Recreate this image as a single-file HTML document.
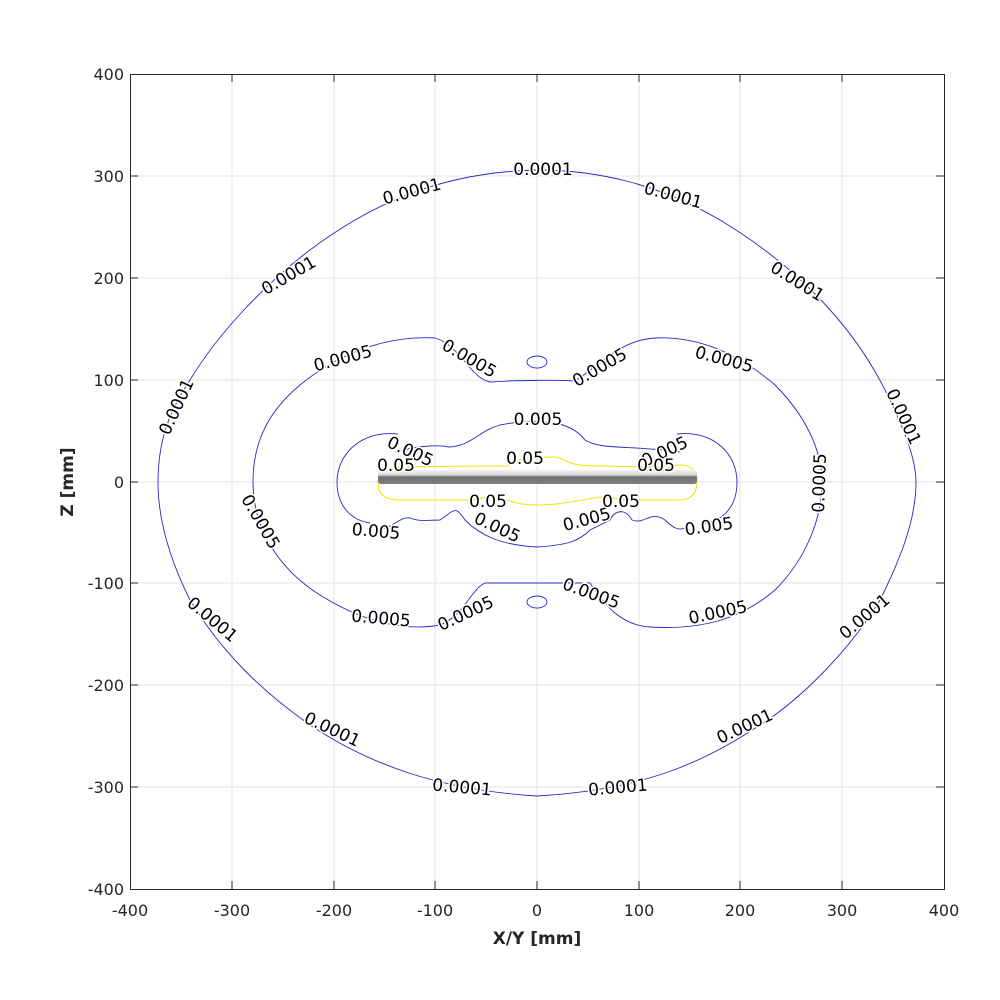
<!DOCTYPE html>
<html><head><style>body{margin:0;background:#fff}svg{display:block}</style></head><body>
<svg width="1000" height="1000" xmlns="http://www.w3.org/2000/svg" font-family="DejaVu Sans, Liberation Sans, sans-serif">
<defs><linearGradient id="g" x1="0" y1="0" x2="0" y2="1"><stop offset="0" stop-color="#f4f4f4"/><stop offset="0.35" stop-color="#d8d8d8"/><stop offset="0.5" stop-color="#707070"/><stop offset="1" stop-color="#808080"/></linearGradient></defs>
<rect width="1000" height="1000" fill="#fff"/>
<g stroke="#e3e3e3" stroke-width="1">
<line x1="232" y1="74" x2="232" y2="889"/><line x1="334" y1="74" x2="334" y2="889"/><line x1="435" y1="74" x2="435" y2="889"/><line x1="537" y1="74" x2="537" y2="889"/><line x1="639" y1="74" x2="639" y2="889"/><line x1="740" y1="74" x2="740" y2="889"/><line x1="842" y1="74" x2="842" y2="889"/>
<line x1="130" y1="176" x2="944" y2="176"/><line x1="130" y1="278" x2="944" y2="278"/><line x1="130" y1="380" x2="944" y2="380"/><line x1="130" y1="482" x2="944" y2="482"/><line x1="130" y1="583" x2="944" y2="583"/><line x1="130" y1="685" x2="944" y2="685"/><line x1="130" y1="787" x2="944" y2="787"/>
</g>
<g fill="none" stroke="#2828c8" stroke-width="0.9">
<path d="M537,170 C600,170 660,185 720,220 C790,262 850,320 885,390 C905,430 916,460 916,482 C916,520 900,560 880,600 C850,650 800,700 760,725 C700,765 640,790 537,796 C440,790 370,765 310,725 C260,690 220,650 190,600 C170,560 158,520 158,482 C158,440 170,410 190,380 C220,330 270,280 310,250 C370,205 440,172 537,170Z"/>
<path d="M490,382 C520,380 560,380 575,381 C600,365 620,340 655,338 C700,336 740,355 775,385 C805,415 822,450 822,482 C822,520 805,560 775,590 C740,620 700,630 650,627 C620,625 605,605 590,583 L485,583 C470,590 465,615 440,625 C400,632 360,620 320,595 C280,570 253,530 253,482 C253,440 270,410 300,385 C340,352 390,335 435,338 C460,345 470,378 490,382Z"/>
<ellipse cx="537" cy="362" rx="10" ry="6"/><ellipse cx="537" cy="602" rx="10" ry="6"/>
<path d="M398,434 C360,430 337,455 337,482 C337,505 350,520 370,523"/>
<path d="M677,434 C715,430 737,455 737,482 C737,505 725,520 705,523"/>
<path d="M395,452 C420,445 440,445 448,447 C470,447 480,430 500,425 C537,418 570,420 585,440 C600,450 630,445 680,452"/>
<path d="M375,530 C395,528 400,516 410,518 C420,522 425,520 440,520 C455,510 455,505 465,520 C480,535 500,545 537,547 C570,545 580,540 590,530 L610,520 C615,510 625,508 632,520 C645,525 650,510 665,520 C675,530 680,530 685,528"/>
</g>
<g fill="none" stroke="#e8e800" stroke-width="1">
<path d="M407,467 C440,466 470,466 507,466 C515,460 525,457 555,457 C570,460 565,466 600,466 C620,466 640,467 660,467"/>
<path d="M400,467 C390,467 378,474 378,482 C378,495 385,500 400,500 L470,500 C480,500 485,496 495,496 C500,496 510,505 537,505 C560,505 580,500 600,497 C610,497 620,500 640,500 L680,500 C692,500 697,492 697,482 C697,472 692,465 680,465 C670,465 665,470 660,470"/>
</g>
<rect x="378" y="470" width="319" height="14" rx="3" fill="url(#g)"/>
<g font-size="17" fill="#000" stroke="#fff" stroke-width="3" paint-order="stroke" text-anchor="middle" dominant-baseline="central">
<text x="543" y="170">0.0001</text>
<text x="412" y="192" transform="rotate(-15 412 192)">0.0001</text>
<text x="673" y="196" transform="rotate(15 673 196)">0.0001</text>
<text x="289" y="276" transform="rotate(-30 289 276)">0.0001</text>
<text x="797" y="282" transform="rotate(32 797 282)">0.0001</text>
<text x="177" y="407" transform="rotate(-65 177 407)">0.0001</text>
<text x="903" y="417" transform="rotate(65 903 417)">0.0001</text>
<text x="212" y="620" transform="rotate(40 212 620)">0.0001</text>
<text x="865" y="617" transform="rotate(-40 865 617)">0.0001</text>
<text x="332" y="730" transform="rotate(25 332 730)">0.0001</text>
<text x="745" y="727" transform="rotate(-25 745 727)">0.0001</text>
<text x="462" y="788" transform="rotate(5 462 788)">0.0001</text>
<text x="618" y="788" transform="rotate(-5 618 788)">0.0001</text>
<text x="343" y="359" transform="rotate(-15 343 359)">0.0005</text>
<text x="469" y="359" transform="rotate(30 469 359)">0.0005</text>
<text x="600" y="368" transform="rotate(-30 600 368)">0.0005</text>
<text x="724" y="360" transform="rotate(15 724 360)">0.0005</text>
<text x="260" y="522" transform="rotate(60 260 522)">0.0005</text>
<text x="820" y="483" transform="rotate(-88 820 483)">0.0005</text>
<text x="381" y="619" transform="rotate(5 381 619)">0.0005</text>
<text x="466" y="614" transform="rotate(-25 466 614)">0.0005</text>
<text x="591" y="594" transform="rotate(20 591 594)">0.0005</text>
<text x="718" y="613" transform="rotate(-12 718 613)">0.0005</text>
<text x="538" y="420">0.005</text>
<text x="410" y="452" transform="rotate(25 410 452)">0.005</text>
<text x="665" y="452" transform="rotate(-25 665 452)">0.005</text>
<text x="376" y="532" transform="rotate(5 376 532)">0.005</text>
<text x="497" y="528" transform="rotate(25 497 528)">0.005</text>
<text x="587" y="520" transform="rotate(-15 587 520)">0.005</text>
<text x="709" y="527" transform="rotate(-8 709 527)">0.005</text>
<text x="525" y="459">0.05</text>
<text x="396" y="466">0.05</text>
<text x="656" y="466">0.05</text>
<text x="488" y="502">0.05</text>
<text x="621" y="502">0.05</text>
</g>
<rect x="130.5" y="74.5" width="814" height="815" fill="none" stroke="#262626" stroke-width="1"/>
<g stroke="#262626">
<path d="M232,889v-8M334,889v-8M435,889v-8M537,889v-8M639,889v-8M740,889v-8M842,889v-8M232,74v8M334,74v8M435,74v8M537,74v8M639,74v8M740,74v8M842,74v8"/>
<path d="M130,176h8M130,278h8M130,380h8M130,482h8M130,583h8M130,685h8M130,787h8M944,176h-8M944,278h-8M944,380h-8M944,482h-8M944,583h-8M944,685h-8M944,787h-8"/>
</g>
<g font-size="16" fill="#262626" text-anchor="middle">
<text x="130" y="916">-400</text><text x="232" y="916">-300</text><text x="334" y="916">-200</text><text x="435" y="916">-100</text><text x="537" y="916">0</text><text x="639" y="916">100</text><text x="740" y="916">200</text><text x="842" y="916">300</text><text x="944" y="916">400</text>
</g>
<g font-size="16" fill="#262626" text-anchor="end">
<text x="124" y="80">400</text><text x="124" y="182">300</text><text x="124" y="284">200</text><text x="124" y="386">100</text><text x="124" y="488">0</text><text x="124" y="589">-100</text><text x="124" y="691">-200</text><text x="124" y="793">-300</text><text x="124" y="895">-400</text>
</g>
<text x="537" y="944" font-size="17" font-weight="bold" fill="#262626" text-anchor="middle">X/Y [mm]</text>
<text x="0" y="0" font-size="17" font-weight="bold" fill="#262626" text-anchor="middle" transform="translate(73 482) rotate(-90)">Z [mm]</text>
</svg>
</body></html>
